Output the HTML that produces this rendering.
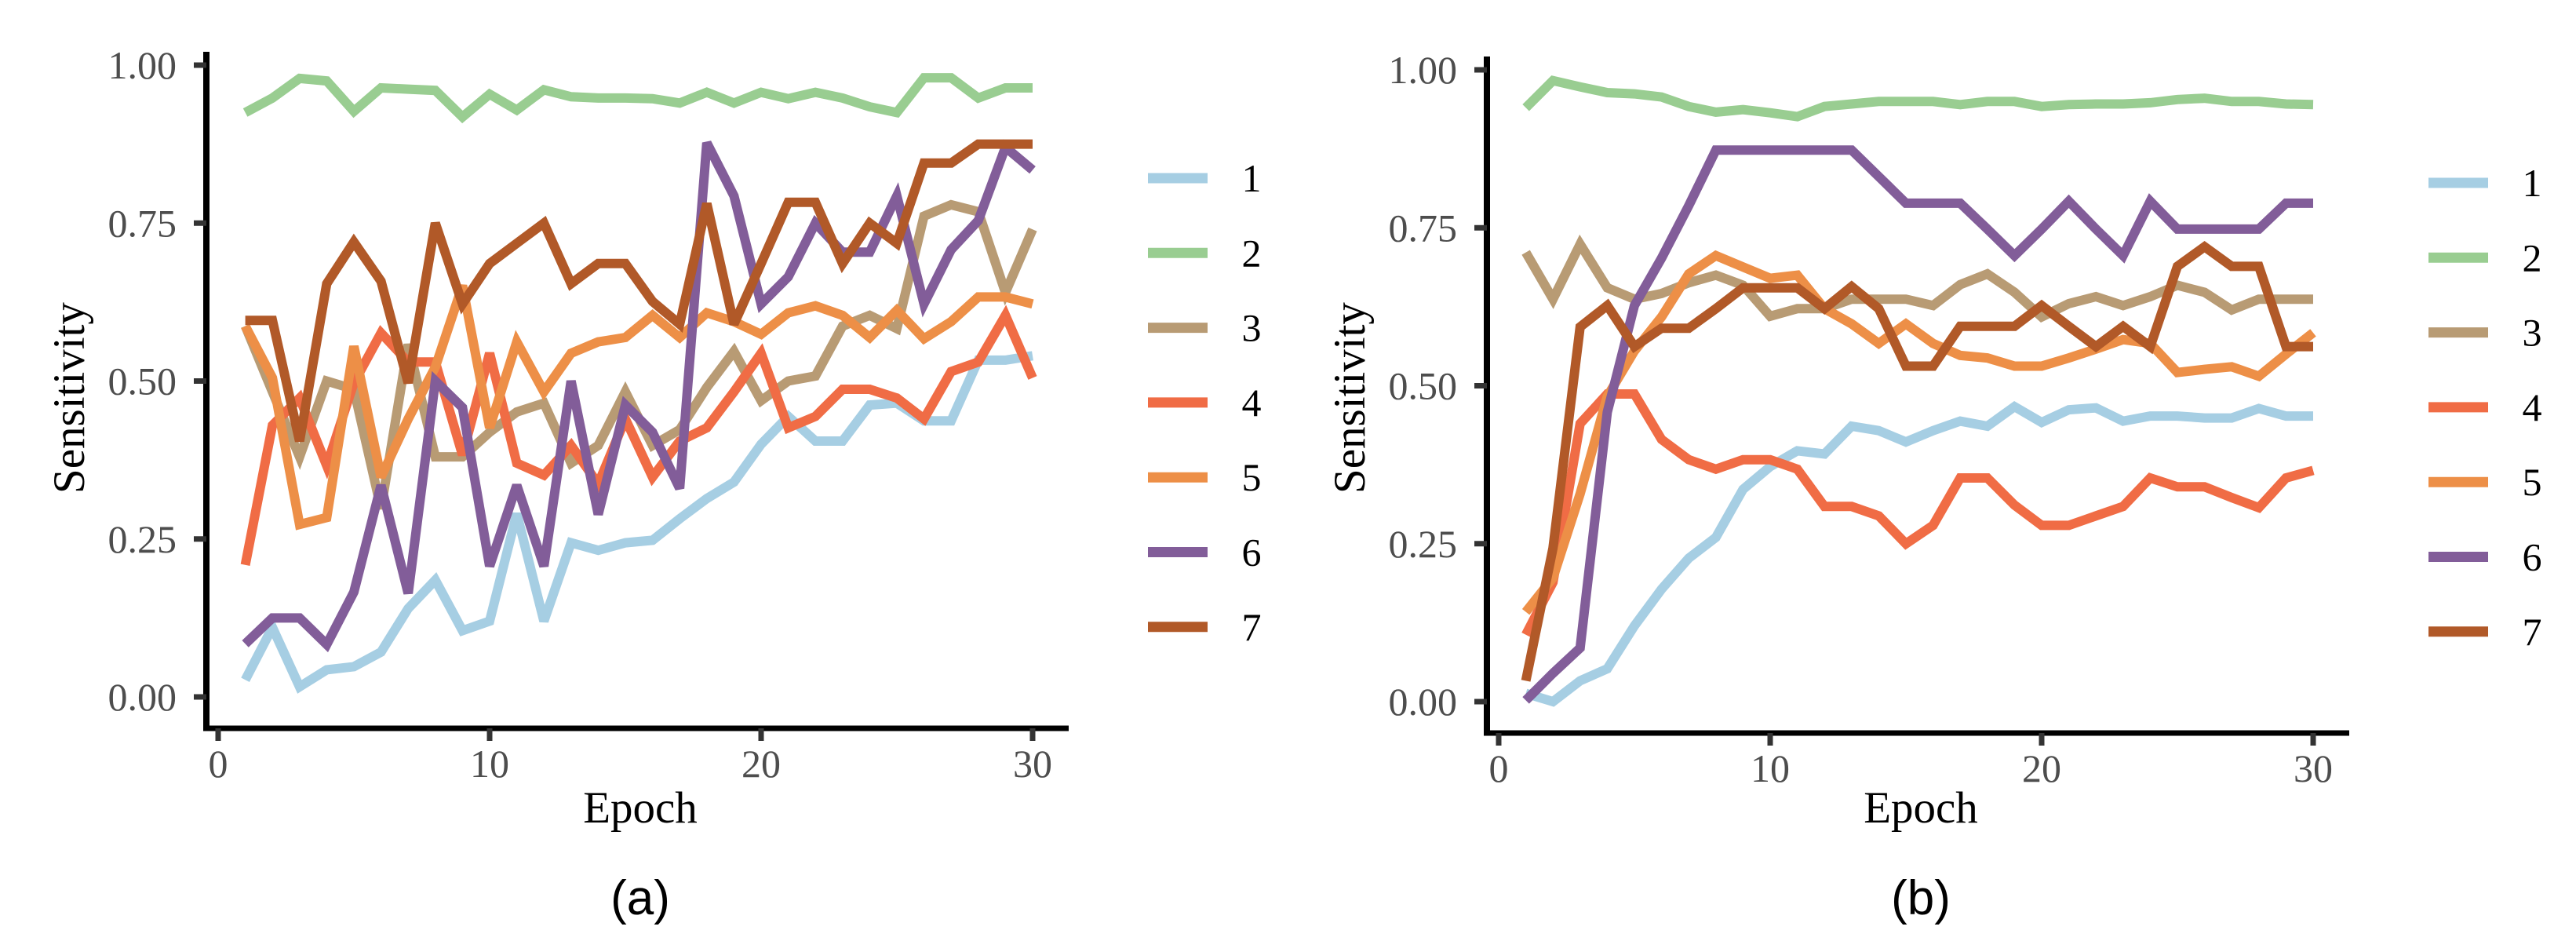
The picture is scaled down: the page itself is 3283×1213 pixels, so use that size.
<!DOCTYPE html>
<html><head><meta charset="utf-8"><style>
html,body{margin:0;padding:0;background:#fff;}
svg{display:block;}
text{font-family:"Liberation Serif",serif;}
text.sans{font-family:"Liberation Sans",sans-serif;}
</style></head><body>
<svg id="chart" width="3283" height="1213" viewBox="0 0 3283 1213" xmlns="http://www.w3.org/2000/svg"></svg>
<script>
const epochs = Array.from({length:30},(_,i)=>i+1);
const seriesNames = ["1","2","3","4","5","6","7"];
const yTicks = [0,0.25,0.5,0.75,1];
const yTickLabels = ["0.00","0.25","0.50","0.75","1.00"];
const xTicks = [0,10,20,30];
const xTickLabels = ["0","10","20","30"];
// Panel (a)
const a1 = [0.027,0.11,0.016,0.043,0.048,0.071,0.14,0.185,0.105,0.12,0.29,0.12,0.244,0.232,0.244,0.248,0.282,0.314,0.34,0.40,0.444,0.405,0.405,0.462,0.465,0.437,0.437,0.533,0.533,0.54];
const a2 = [0.925,0.948,0.979,0.975,0.927,0.964,0.962,0.96,0.918,0.954,0.929,0.961,0.95,0.948,0.948,0.947,0.94,0.957,0.94,0.957,0.947,0.957,0.948,0.934,0.925,0.98,0.98,0.948,0.964,0.964];
const a3 = [0.587,0.483,0.38,0.50,0.487,0.298,0.558,0.38,0.38,0.419,0.451,0.465,0.37,0.398,0.483,0.398,0.423,0.49,0.547,0.469,0.50,0.508,0.587,0.604,0.583,0.761,0.779,0.768,0.64,0.74];
const a4 = [0.209,0.43,0.473,0.366,0.497,0.576,0.53,0.53,0.383,0.544,0.37,0.351,0.398,0.337,0.44,0.348,0.405,0.426,0.483,0.544,0.426,0.444,0.487,0.487,0.473,0.44,0.515,0.53,0.604,0.505];
const a5 = [0.587,0.505,0.273,0.284,0.555,0.348,0.44,0.522,0.651,0.426,0.562,0.483,0.544,0.562,0.569,0.604,0.569,0.608,0.594,0.574,0.608,0.619,0.604,0.569,0.612,0.567,0.594,0.633,0.633,0.622];
const a6 = [0.084,0.125,0.125,0.083,0.166,0.335,0.164,0.50,0.458,0.207,0.335,0.207,0.50,0.289,0.462,0.419,0.33,0.877,0.793,0.622,0.665,0.75,0.704,0.704,0.793,0.622,0.708,0.754,0.87,0.834];
const a7 = [0.596,0.596,0.405,0.654,0.72,0.658,0.497,0.75,0.622,0.686,0.718,0.75,0.654,0.686,0.686,0.626,0.59,0.781,0.59,0.686,0.783,0.783,0.686,0.75,0.718,0.845,0.845,0.875,0.875,0.875];
// Panel (b)
const b1 = [0.013,0.0,0.033,0.052,0.12,0.178,0.227,0.26,0.336,0.372,0.397,0.392,0.436,0.429,0.411,0.429,0.444,0.436,0.467,0.442,0.462,0.465,0.444,0.452,0.452,0.449,0.449,0.464,0.452,0.452];
const b2 = [0.94,0.983,0.973,0.964,0.962,0.957,0.942,0.933,0.937,0.932,0.926,0.942,0.946,0.95,0.95,0.95,0.945,0.95,0.95,0.942,0.945,0.946,0.946,0.948,0.953,0.955,0.95,0.95,0.946,0.945];
const b3 = [0.711,0.637,0.724,0.655,0.637,0.646,0.663,0.675,0.659,0.61,0.622,0.622,0.637,0.637,0.637,0.627,0.66,0.677,0.648,0.609,0.63,0.641,0.627,0.641,0.659,0.648,0.62,0.637,0.637,0.637];
const b4 = [0.106,0.189,0.44,0.487,0.487,0.415,0.383,0.368,0.383,0.383,0.368,0.309,0.309,0.294,0.25,0.279,0.354,0.354,0.311,0.279,0.279,0.294,0.309,0.354,0.34,0.34,0.323,0.307,0.354,0.366];
const b5 = [0.142,0.196,0.329,0.483,0.555,0.609,0.677,0.706,0.688,0.67,0.675,0.622,0.598,0.567,0.598,0.567,0.548,0.544,0.531,0.531,0.544,0.558,0.573,0.567,0.521,0.526,0.53,0.515,0.55,0.584];
const b6 = [0.002,0.045,0.085,0.458,0.627,0.702,0.785,0.873,0.873,0.873,0.873,0.873,0.873,0.831,0.789,0.789,0.789,0.748,0.706,0.748,0.792,0.748,0.706,0.792,0.748,0.748,0.748,0.748,0.789,0.789];
const b7 = [0.033,0.243,0.593,0.627,0.562,0.591,0.591,0.622,0.655,0.655,0.655,0.622,0.657,0.622,0.531,0.531,0.594,0.594,0.594,0.627,0.594,0.562,0.594,0.562,0.689,0.72,0.689,0.689,0.562,0.562];

const colors = ["#a6cee3","#99cd91","#b89b74","#f06c45","#ed8f47","#825d99","#b15928"];
const NS = "http://www.w3.org/2000/svg";
const svg = document.getElementById("chart");
function mk(tag, attrs, parent){
  const e = document.createElementNS(NS, tag);
  for (const k in attrs) e.setAttribute(k, attrs[k]);
  (parent||svg).appendChild(e);
  return e;
}

function panel(dx, dy, data, letter){
  const g = mk("g", {});
  
  
  const x = v => 278 + dx + (v/30)*1038;
  const y = v => 888 + dy - v*805;
  const ya = mk("line",{x1:263+dx,y1:66+dy,x2:263+dx,y2:931+dy,stroke:"#000","stroke-width":8},g);
  
  
  const xa = mk("line",{x1:259+dx,y1:928+dy,x2:1362+dx,y2:928+dy,stroke:"#000","stroke-width":7},g);
  
  
  yTicks.forEach((t,i)=>{
    const tk = mk("line",{x1:247+dx,y1:y(t),x2:263+dx,y2:y(t),stroke:"#333","stroke-width":7},g);
    
    
    const tl = mk("text",{x:225+dx,y:y(t)+17,"text-anchor":"end","font-size":50,fill:"#4d4d4d"},g);
    tl.textContent = yTickLabels[i];
    
    
  });
  xTicks.forEach((t,i)=>{
    const tk = mk("line",{x1:x(t),y1:928+dy,x2:x(t),y2:944+dy,stroke:"#333","stroke-width":7},g);
    
    
    const tl = mk("text",{x:x(t),y:990+dy,"text-anchor":"middle","font-size":50,fill:"#4d4d4d"},g);
    tl.textContent = xTickLabels[i];
    
    
  });
  const xt = mk("text",{x:816+dx,y:1048,"text-anchor":"middle","font-size":57,fill:"#000"},g);
  xt.textContent = "Epoch";
  
  
  const yt = mk("text",{x:0,y:0,"text-anchor":"middle","font-size":57,fill:"#000",transform:`translate(${107+dx},${507}) rotate(-90)`},g);
  yt.textContent = "Sensitivity";
  
  
  const cap = mk("text",{x:816+dx,y:1165,"text-anchor":"middle","font-size":62,fill:"#000","class":"sans"},g);
  cap.textContent = "(" + letter + ")";
  
  
  data.forEach((s,si)=>{
    const pts = s.map((v,i)=>x(epochs[i]).toFixed(1)+","+y(v).toFixed(1)).join(" ");
    const pl = mk("polyline",{points:pts,fill:"none",stroke:colors[si],"stroke-width":12,"stroke-linejoin":"miter","stroke-miterlimit":3},g);
    
    
  });
  seriesNames.forEach((n,si)=>{
    const ly = 227 + dy + si*95.3;
    const ll = mk("line",{x1:1463+dx,y1:ly,x2:1539+dx,y2:ly,stroke:colors[si],"stroke-width":13},g);
    
    
    const lt = mk("text",{x:1595+dx,y:ly+17,"text-anchor":"middle","font-size":50,fill:"#000"},g);
    lt.textContent = n;
    
    
  });
}
panel(0, 0, [a1,a2,a3,a4,a5,a6,a7], "a");
panel(1632, 6, [b1,b2,b3,b4,b5,b6,b7], "b");
</script>
</body></html>
